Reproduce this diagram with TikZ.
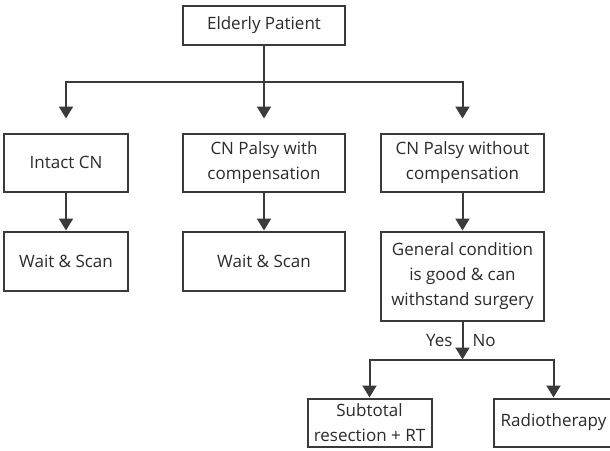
\documentclass[tikz,border=0pt]{standalone}
\usepackage{fontspec}
\setmainfont{Open Sans}
\usepackage{tikz}
\usetikzlibrary{arrows.meta,positioning}
\definecolor{linegray}{HTML}{3A3A3A}
\definecolor{textgray}{HTML}{2A2A2A}

\begin{document}
\begin{tikzpicture}
[node distance = 38pt, font=\fontsize{17pt}{25pt}\selectfont, text=textgray,
% STYLES
% The box style is used for every step of the pathway
box/.style={rectangle, draw=linegray, line width=2pt, inner sep=0pt, align=center, minimum width=124pt},
% The link style is used for the arrows between the steps
link/.style={draw=linegray, line width=2pt, -{Triangle[length=12pt 0,width=14pt 0]}},
% The answer style is used for the yes/no labels
answer/.style={inner sep=9pt}]

\useasboundingbox (0,0) rectangle (610pt,-450pt);

% Draw steps
\node [box, minimum width=162pt, minimum height=39pt] (elderly) at (264pt,-25pt) {Elderly Patient};
\node [box, minimum width=162pt, minimum height=58pt, below=87pt of elderly] (palsycomp) {CN Palsy with\\compensation};
\node [box, minimum height=58pt, left=53pt of palsycomp] (intact) {Intact CN};
\node [box, minimum width=163pt, minimum height=58pt, right=34pt of palsycomp] (palsynocomp) {CN Palsy without\\compensation};

%%%%%%%%%%%%%%%
% Second row

\node [box, minimum height=59pt, below=of intact] (wait1) {Wait \& Scan};
\node [box, minimum width=162pt, minimum height=59pt, below=of palsycomp] (wait2) {Wait \& Scan};
\node [box, minimum width=163pt, minimum height=89pt, below=of palsynocomp] (general) {General condition\\is good \& can\\withstand surgery};

% Treatment
\node [box, minimum height=48pt, below=76pt of general, xshift=-93pt] (subtotal) {Subtotal\\resection + RT};
\node [box, minimum width=120pt, minimum height=48pt, right=60pt of subtotal] (radio) {Radiotherapy};

%%%%%%%%%%%%%%%%

% Draw the links between steps
\path (elderly.south) ++(0,-36pt) coordinate (split);
\path (general.south) ++(0,-38pt) coordinate (fork);

\draw [link, shorten >=14pt] (elderly) -- (palsycomp);
\draw [link, shorten >=14pt] (split) -| (intact);
\draw [link, shorten >=14pt] (split) -| (palsynocomp);
\draw [link] (intact) -- (wait1);
\draw [link] (palsycomp) -- (wait2);
\draw [link] (palsynocomp) -- (general);
\draw [link] (general) -- (fork)
  node [answer, midway, left] (yes) {Yes}
  node [answer, midway, right] (no) {No};
\draw [link] (fork) -| (subtotal);
\draw [link] (fork) -| (radio);

\end{tikzpicture}
\end{document}
